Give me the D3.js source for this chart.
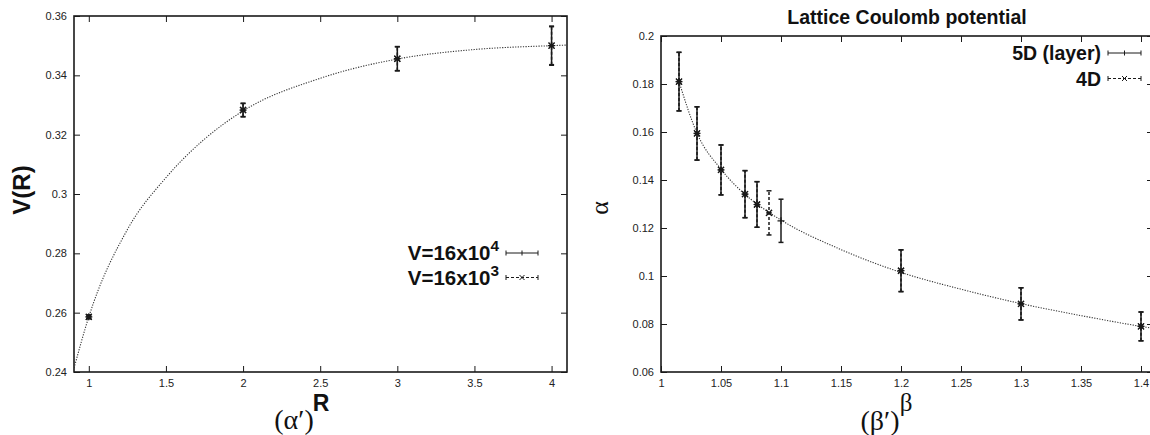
<!DOCTYPE html>
<html>
<head>
<meta charset="utf-8">
<script src="https://d3js.org/d3.v7.min.js"></script>
<style>
  body { margin: 0; background: #fff; }
  svg { display: block; }
  .tick text { font-family: "Liberation Sans", Arial, sans-serif; font-size: 11px; fill: #222; }
</style>
</head>
<body>
<svg id="chart" width="1150" height="435"></svg>
<script>
// ---- left panel: V(R)
const rVals   = [1, 2, 3, 4];
const vBig    = [0.2586, 0.3283, 0.3456, 0.3500];   // V=16x10^4
const vBigErr = [0.0006, 0.0023, 0.0041, 0.0066];
const vSmall    = [0.2586, 0.3283, 0.3456, 0.3500]; // V=16x10^3
const vSmallErr = [0.0006, 0.0022, 0.0040, 0.0064];
// fit curve
const fitR = [0.9, 1.0, 1.25, 1.5, 1.75, 2.0, 2.5, 3.0, 3.5, 4.0, 4.1];
const fitV = [0.2405, 0.2586, 0.288, 0.3055, 0.3185, 0.328, 0.339, 0.3455, 0.3487, 0.35, 0.3502];
const leftXTicks = [1, 1.5, 2, 2.5, 3, 3.5, 4];
const leftYTicks = [0.24, 0.26, 0.28, 0.3, 0.32, 0.34, 0.36];

// ---- right panel: alpha(beta)
const beta5D  = [1.015, 1.03, 1.05, 1.07, 1.08, 1.1, 1.2, 1.3, 1.4];
const alpha5D = [0.181, 0.1594, 0.1442, 0.1341, 0.1298, 0.123, 0.1022, 0.0884, 0.079];
const err5D   = [0.0122, 0.0111, 0.0104, 0.0098, 0.0095, 0.009, 0.0087, 0.0067, 0.006];
const beta4D  = [1.015, 1.03, 1.05, 1.07, 1.08, 1.09, 1.2, 1.3, 1.4];
const alpha4D = [0.181, 0.1594, 0.1442, 0.1341, 0.1298, 0.1263, 0.1022, 0.0884, 0.079];
const err4D   = [0.0122, 0.0111, 0.0104, 0.0098, 0.0095, 0.0092, 0.0087, 0.0067, 0.006];
const fitBeta  = [1.015, 1.03, 1.05, 1.07, 1.08, 1.09, 1.1, 1.15, 1.2, 1.25, 1.3, 1.35, 1.4, 1.41];
const fitAlpha = [0.181, 0.1595, 0.1445, 0.134, 0.13, 0.1265, 0.1233, 0.111, 0.1015, 0.0945, 0.0885, 0.0835, 0.079, 0.0782];
const rightXTicks = [1, 1.05, 1.1, 1.15, 1.2, 1.25, 1.3, 1.35, 1.4];
const rightYTicks = [0.06, 0.08, 0.1, 0.12, 0.14, 0.16, 0.18, 0.2];

const svg = d3.select("#chart");
const ink = "#1a1a1a";
const fmt = d => String(+d.toFixed(3));

function panel(cfg) {
  const x = d3.scaleLinear().domain(cfg.xDomain).range([cfg.left, cfg.right]);
  const y = d3.scaleLinear().domain(cfg.yDomain).range([cfg.bottom, cfg.top]);
  const g = svg.append("g");

  const clipId = "clip" + cfg.id;
  svg.append("clipPath").attr("id", clipId)
    .append("rect")
    .attr("x", cfg.left).attr("y", cfg.top)
    .attr("width", cfg.right - cfg.left).attr("height", cfg.bottom - cfg.top);

  // axes with inward ticks (mirrored on top/right)
  const tickLen = 6;
  g.append("g").attr("transform", "translate(0," + cfg.bottom + ")")
    .call(d3.axisBottom(x).tickValues(cfg.xTicks).tickFormat(fmt).tickSizeInner(-tickLen).tickSizeOuter(0).tickPadding(7));
  g.append("g").attr("transform", "translate(" + cfg.left + ",0)")
    .call(d3.axisLeft(y).tickValues(cfg.yTicks).tickFormat(fmt).tickSizeInner(-tickLen).tickSizeOuter(0).tickPadding(7));
  g.append("g").attr("transform", "translate(0," + cfg.top + ")")
    .call(d3.axisTop(x).tickValues(cfg.xTicks).tickFormat("").tickSizeInner(-tickLen).tickSizeOuter(0));
  g.append("g").attr("transform", "translate(" + cfg.right + ",0)")
    .call(d3.axisRight(y).tickValues(cfg.yTicks).tickFormat("").tickSizeInner(-tickLen).tickSizeOuter(0));
  g.selectAll(".domain").remove();
  g.selectAll(".tick line").attr("stroke", ink).attr("stroke-width", 1);

  g.append("rect")
    .attr("x", cfg.left).attr("y", cfg.top)
    .attr("width", cfg.right - cfg.left).attr("height", cfg.bottom - cfg.top)
    .attr("fill", "none").attr("stroke", ink).attr("stroke-width", 1.6);

  // fit curve (dotted)
  const line = d3.line().x(d => x(d[0])).y(d => y(d[1])).curve(d3.curveMonotoneX);
  g.append("path")
    .datum(d3.zip(cfg.fitX, cfg.fitY))
    .attr("clip-path", "url(#" + clipId + ")")
    .attr("d", line)
    .attr("fill", "none").attr("stroke", "#333")
    .attr("stroke-width", 1.1).attr("stroke-dasharray", "1.2,1.4");

  // series: dashed first, solid on top
  cfg.series.forEach(s => {
    const data = d3.zip(s.x, s.y, s.e);
    const sg = g.append("g").attr("clip-path", "url(#" + clipId + ")");
    const bars = sg.selectAll("g.bar").data(data).enter().append("g");
    bars.append("line")
      .attr("x1", d => x(d[0])).attr("x2", d => x(d[0]))
      .attr("y1", d => y(d[1] - d[2])).attr("y2", d => y(d[1] + d[2]))
      .attr("stroke", ink).attr("stroke-width", 1.5)
      .attr("stroke-dasharray", s.dash ? "3,2" : null);
    [-1, 1].forEach(k => {
      bars.append("line")
        .attr("x1", d => x(d[0]) - 2.5).attr("x2", d => x(d[0]) + 2.5)
        .attr("y1", d => y(d[1] + k * d[2])).attr("y2", d => y(d[1] + k * d[2]))
        .attr("stroke", ink).attr("stroke-width", 1.5);
    });
    bars.append("path")
      .attr("transform", d => "translate(" + x(d[0]) + "," + y(d[1]) + ")")
      .attr("d", s.marker === "x" ? "M-3,-3L3,3M-3,3L3,-3" : "M-3.5,0H3.5M0,-3.5V3.5")
      .attr("stroke", ink).attr("stroke-width", 1.2).attr("fill", "none");
  });

  // legend
  cfg.legend.forEach((l, i) => {
    const ly = cfg.legendY + i * cfg.legendStep;
    const lx0 = cfg.legendX0, lx1 = cfg.legendX1, mid = (lx0 + lx1) / 2;
    const t = g.append("text")
      .attr("x", lx0 - 7).attr("y", ly + 7)
      .attr("text-anchor", "end")
      .attr("font-family", "Liberation Sans, Arial, sans-serif")
      .attr("font-weight", "bold").attr("font-size", cfg.legendSize)
      .attr("fill", "#111");
    t.append("tspan").text(l.text);
    if (l.sup) t.append("tspan").attr("dy", -9).attr("font-size", cfg.legendSize * 0.75).text(l.sup);
    g.append("line").attr("x1", lx0).attr("x2", lx1).attr("y1", ly).attr("y2", ly)
      .attr("stroke", ink).attr("stroke-width", 1)
      .attr("stroke-dasharray", l.dash ? "3,2" : null);
    [lx0, lx1].forEach(px => g.append("line").attr("x1", px).attr("x2", px)
      .attr("y1", ly - 2.5).attr("y2", ly + 2.5).attr("stroke", ink).attr("stroke-width", 1));
    g.append("path").attr("transform", "translate(" + mid + "," + ly + ")")
      .attr("d", l.marker === "x" ? "M-2.5,-2.5L2.5,2.5M-2.5,2.5L2.5,-2.5" : "M0,-2.5V2.5")
      .attr("stroke", ink).attr("stroke-width", 1).attr("fill", "none");
  });

  return { x, y, g };
}

const L = panel({
  id: "L", left: 74, right: 567, top: 16, bottom: 372,
  xDomain: [0.904, 4.1], yDomain: [0.24, 0.36],
  xTicks: leftXTicks, yTicks: leftYTicks,
  fitX: fitR, fitY: fitV,
  series: [
    { x: rVals, y: vSmall, e: vSmallErr, dash: true, marker: "x" },
    { x: rVals, y: vBig, e: vBigErr, dash: false, marker: "+" },
    { x: rVals, y: vSmall, e: vSmallErr.map(() => 0), dash: true, marker: "x" }
  ],
  legend: [
    { text: "V=16x10", sup: "4", dash: false, marker: "+" },
    { text: "V=16x10", sup: "3", dash: true, marker: "x" }
  ],
  legendX0: 506, legendX1: 538, legendY: 253, legendStep: 24.5, legendSize: 20.5
});

const R = panel({
  id: "R", left: 661, right: 1153, top: 36, bottom: 372,
  xDomain: [1, 1.41], yDomain: [0.06, 0.2],
  xTicks: rightXTicks, yTicks: rightYTicks,
  fitX: fitBeta, fitY: fitAlpha,
  series: [
    { x: beta4D, y: alpha4D, e: err4D, dash: true, marker: "x" },
    { x: beta5D, y: alpha5D, e: err5D, dash: false, marker: "+" },
    { x: beta4D, y: alpha4D, e: err4D.map(() => 0), dash: true, marker: "x" }
  ],
  legend: [
    { text: "5D (layer)", dash: false, marker: "+" },
    { text: "4D", dash: true, marker: "x" }
  ],
  legendX0: 1108, legendX1: 1141, legendY: 53, legendStep: 25.5, legendSize: 19.5
});

// titles and axis labels
svg.append("text").attr("x", 907).attr("y", 24).attr("text-anchor", "middle")
  .attr("font-family", "Liberation Sans, Arial, sans-serif").attr("font-weight", "bold")
  .attr("font-size", 19.5).attr("fill", "#111").text("Lattice Coulomb potential");

svg.append("text").attr("transform", "translate(30,190) rotate(-90)").attr("text-anchor", "middle")
  .attr("font-family", "Liberation Sans, Arial, sans-serif").attr("font-weight", "bold")
  .attr("font-size", 24).attr("fill", "#111").text("V(R)");

svg.append("text").attr("transform", "translate(608,208) rotate(-90)").attr("text-anchor", "middle")
  .attr("font-family", "Liberation Serif, Times New Roman, serif")
  .attr("font-size", 26).attr("fill", "#111").text("α");

svg.append("text").attr("x", 321).attr("y", 411).attr("text-anchor", "middle")
  .attr("font-family", "Liberation Sans, Arial, sans-serif").attr("font-weight", "bold")
  .attr("font-size", 23).attr("fill", "#111").text("R");

svg.append("text").attr("x", 906).attr("y", 411).attr("text-anchor", "middle")
  .attr("font-family", "Liberation Serif, Times New Roman, serif")
  .attr("font-size", 25).attr("fill", "#111").text("β");

svg.append("text").attr("x", 294).attr("y", 429).attr("text-anchor", "middle")
  .attr("font-family", "Liberation Serif, Times New Roman, serif")
  .attr("font-size", 28).attr("fill", "#111").text("(α′)");

svg.append("text").attr("x", 880).attr("y", 430).attr("text-anchor", "middle")
  .attr("font-family", "Liberation Serif, Times New Roman, serif")
  .attr("font-size", 28).attr("fill", "#111").text("(β′)");
</script>
</body>
</html>
